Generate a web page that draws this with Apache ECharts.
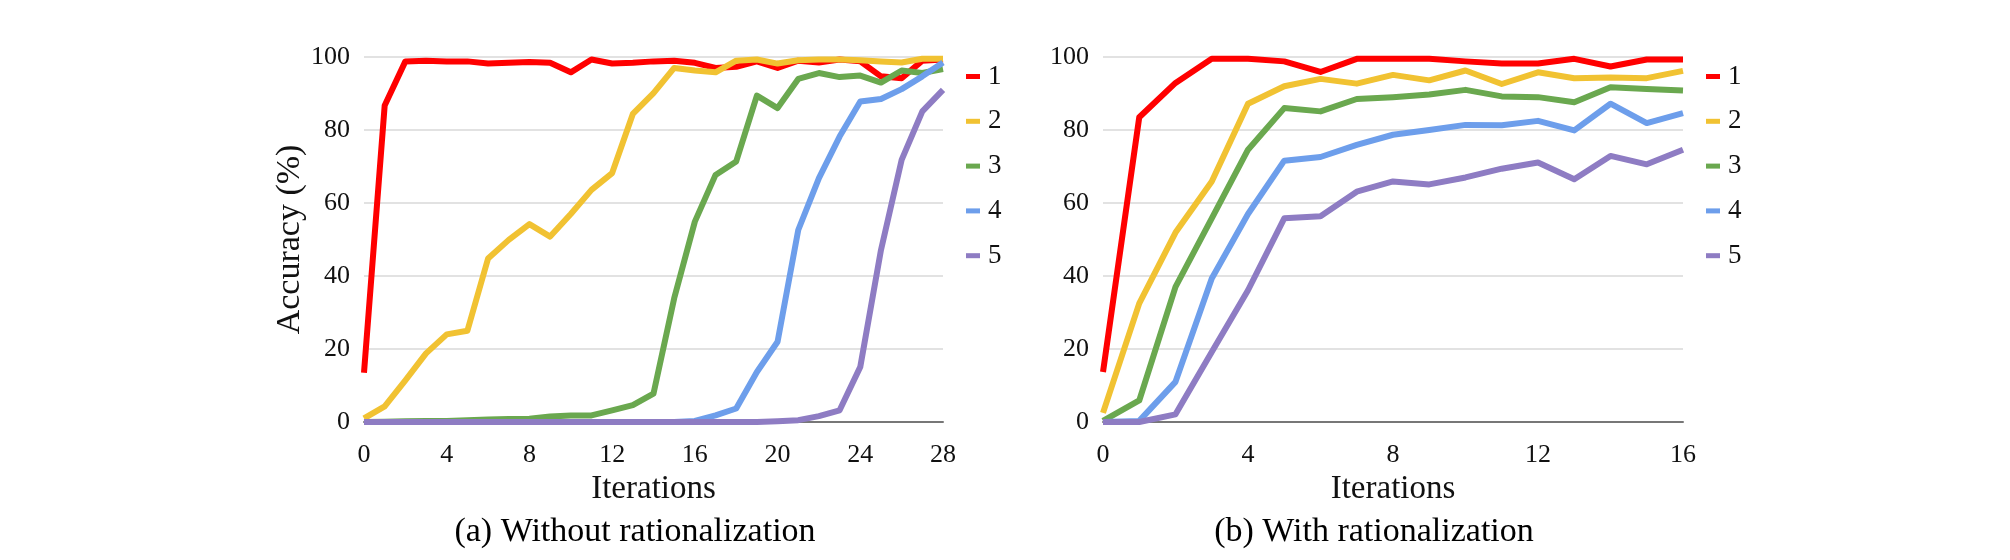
<!DOCTYPE html>
<html>
<head>
<meta charset="utf-8">
<script src="https://cdn.jsdelivr.net/npm/echarts@6/dist/echarts.min.js"></script>
<style>
html,body{margin:0;padding:0;background:#fff;}
#chart{width:2010px;height:560px;}
</style>
</head>
<body>
<div id="chart"></div>
<script>
// ---- Data ----
const seriesNames = ['1', '2', '3', '4', '5'];
const colors = ['#ff0000', '#f1c232', '#6aa84f', '#6d9eeb', '#8e7cc3'];

// (a) Without rationalization, iterations 0..28
const a1 = [13.5, 86.7, 98.8, 99.0, 98.8, 98.8, 98.2, 98.4, 98.6, 98.4, 95.8, 99.3, 98.2, 98.4, 98.8, 99.0, 98.4, 97.0, 97.3, 98.8, 97.0, 99.0, 98.5, 99.3, 98.8, 94.7, 94.2, 99.0, 99.3];
const a2 = [1.0, 4.3, 11.4, 18.8, 24.0, 25.0, 44.8, 49.9, 54.2, 50.8, 57.0, 63.6, 68.2, 84.4, 90.1, 97.0, 96.3, 95.8, 99.0, 99.3, 98.2, 99.1, 99.3, 99.3, 99.1, 98.8, 98.5, 99.5, 99.5];
const a3 = [0.0, 0.1, 0.2, 0.3, 0.3, 0.5, 0.7, 0.8, 0.9, 1.5, 1.8, 1.8, 3.2, 4.6, 7.8, 33.9, 54.9, 67.7, 71.4, 89.4, 86.0, 94.0, 95.6, 94.5, 94.9, 93.0, 96.3, 95.6, 96.7];
const a4 = [0, 0, 0, 0, 0, 0, 0, 0, 0, 0, 0, 0, 0, 0, 0, 0, 0.3, 1.8, 3.7, 13.7, 22.0, 52.6, 66.8, 78.2, 87.8, 88.5, 91.2, 94.7, 98.5];
const a5 = [0, 0, 0, 0, 0, 0, 0, 0, 0, 0, 0, 0, 0, 0, 0, 0, 0, 0, 0, 0, 0.2, 0.5, 1.6, 3.2, 15.1, 47.1, 71.8, 85.1, 91.0];

// (b) With rationalization, iterations 0..16
const b1 = [13.7, 83.5, 92.9, 99.5, 99.5, 98.8, 95.9, 99.5, 99.5, 99.5, 98.8, 98.2, 98.2, 99.5, 97.4, 99.3, 99.3];
const b2 = [2.5, 32.5, 51.9, 65.9, 87.2, 92.0, 94.0, 92.7, 95.1, 93.6, 96.3, 92.6, 95.8, 94.2, 94.4, 94.2, 96.2];
const b3 = [0.3, 5.9, 37.0, 55.8, 74.6, 86.0, 85.1, 88.5, 89.0, 89.7, 91.0, 89.2, 89.0, 87.6, 91.7, 91.2, 90.8];
const b4 = [0, 0.3, 11.0, 39.3, 57.0, 71.6, 72.6, 75.9, 78.7, 80.0, 81.4, 81.3, 82.5, 79.9, 87.2, 81.9, 84.6];
const b5 = [0, 0, 2.1, 19.2, 36.1, 55.8, 56.4, 63.1, 65.9, 65.1, 67.0, 69.4, 71.1, 66.5, 72.9, 70.6, 74.6];

const yTicks = [0, 20, 40, 60, 80, 100];
const xTicksA = [0, 4, 8, 12, 16, 20, 24, 28];
const xTicksB = [0, 4, 8, 12, 16];
const captionA = '(a) Without rationalization';
const captionB = '(b) With rationalization';
const xTitle = 'Iterations';
const yTitle = 'Accuracy (%)';

// ---- Chart ----
const FONT = '"Liberation Serif", "Times New Roman", serif';
const seriesA = [a1, a2, a3, a4, a5];
const seriesB = [b1, b2, b3, b4, b5];

function toPts(arr) { return arr.map((v, i) => [i, v]); }

function makeSeries(list, idx) {
  return list.map((arr, k) => ({
    name: seriesNames[k],
    type: 'line',
    xAxisIndex: idx,
    yAxisIndex: idx,
    data: toPts(arr),
    showSymbol: false,
    symbol: 'none',
    lineStyle: { width: 6, color: colors[k], join: 'round' },
    itemStyle: { color: colors[k] },
    z: 2 + k,
    animation: false
  }));
}

function xAxisDef(idx, max) {
  return {
    type: 'value', gridIndex: idx, min: 0, max: max, interval: 4,
    name: xTitle, nameLocation: 'middle', nameGap: 50,
    nameTextStyle: { fontFamily: FONT, fontSize: 33, color: '#111' },
    axisLine: { show: true, onZero: false, lineStyle: { color: '#777', width: 2 } },
    axisTick: { show: false },
    splitLine: { show: false },
    axisLabel: { fontFamily: FONT, fontSize: 26, color: '#111', margin: 20 }
  };
}

function yAxisDef(idx, showName) {
  return {
    type: 'value', gridIndex: idx, min: 0, max: 100, interval: 20,
    name: showName ? yTitle : '', nameLocation: 'middle', nameGap: 50, nameRotate: 90,
    nameTextStyle: { fontFamily: FONT, fontSize: 34, color: '#111' },
    axisLine: { show: false },
    axisTick: { show: false },
    splitLine: { show: true, lineStyle: { color: '#d9d9d9', width: 1.5 } },
    axisLabel: { fontFamily: FONT, fontSize: 26, color: '#111', margin: 14 }
  };
}

function legendDef(left) {
  return {
    orient: 'vertical', left: left, top: 58,
    data: seriesNames.map((n, k) => ({ name: n, icon: 'rect', itemStyle: { color: colors[k] } })),
    itemWidth: 14, itemHeight: 5, itemGap: 17.8,
    selectedMode: false,
    textStyle: { fontFamily: FONT, fontSize: 27, color: '#111', lineHeight: 26, padding: [0, 0, 0, 3] }
  };
}

const chart = echarts.init(document.getElementById('chart'), null, { renderer: 'canvas' });
chart.setOption({
  backgroundColor: '#ffffff',
  animation: false,
  grid: [
    { left: 364, top: 57, width: 579, height: 365 },
    { left: 1103, top: 57, width: 580, height: 365 }
  ],
  xAxis: [xAxisDef(0, 28), xAxisDef(1, 16)],
  yAxis: [yAxisDef(0, true), yAxisDef(1, false)],
  legend: [legendDef(961), legendDef(1701)],
  series: makeSeries(seriesA, 0).concat(makeSeries(seriesB, 1)),
  graphic: [
    { type: 'text', x: 635, y: 532, style: { text: captionA, font: '34px ' + FONT, fill: '#000', textAlign: 'center', textVerticalAlign: 'middle' } },
    { type: 'text', x: 1374, y: 532, style: { text: captionB, font: '34px ' + FONT, fill: '#000', textAlign: 'center', textVerticalAlign: 'middle' } }
  ]
});
</script>
</body>
</html>
